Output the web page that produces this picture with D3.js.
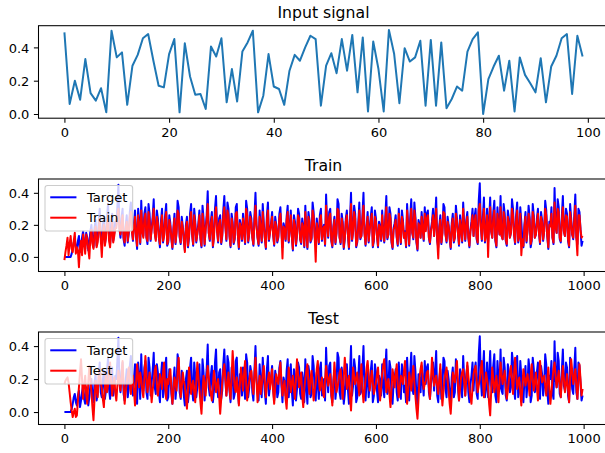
<!DOCTYPE html>
<html>
<head>
<meta charset="utf-8">
<script src="https://cdn.jsdelivr.net/npm/d3@7"></script>
<style>
  body { margin: 0; background: #fff; }
  svg { display: block; font-family: "DejaVu Sans", sans-serif; }
</style>
</head>
<body>
<div id="chart"></div>
<script>
// Values

// input signal, first 100 samples
const inputSignal = [
  0.49, 0.06, 0.20, 0.085, 0.33, 0.125, 0.08, 0.155, 0.01, 0.50,
  0.34, 0.37, 0.055, 0.29, 0.355, 0.455, 0.48, 0.32, 0.17, 0.16,
  0.36, 0.45, 0.01, 0.425, 0.225, 0.115, 0.12, 0.03, 0.405, 0.345,
  0.455, 0.07, 0.27, 0.075, 0.375, 0.43, 0.50, 0.01, 0.11, 0.36,
  0.165, 0.15, 0.055, 0.26, 0.355, 0.32, 0.40, 0.47, 0.45, 0.05,
  0.29, 0.365, 0.245, 0.45, 0.26, 0.475, 0.13, 0.46, 0.015, 0.435,
  0.27, 0.015, 0.505, 0.36, 0.065, 0.395, 0.315, 0.34, 0.44, 0.05,
  0.445, 0.05, 0.43, 0.035, 0.09, 0.165, 0.14, 0.375, 0.45, 0.49,
  0.0, 0.21, 0.285, 0.35, 0.14, 0.32, 0.015, 0.34, 0.235, 0.185,
  0.13, 0.335, 0.07, 0.285, 0.35, 0.455, 0.48, 0.12, 0.47, 0.345
];

// target / train / test, read every 2nd step (x = 0, 2, 4 ... 998), one row per 100 steps
const sampleStep = 2;

const target = [
  0,0, 0,0, 0,0, 0,0.02, 0.05,0.09, 0.11,0.06, 0.04,0.1, 0.13,0.03, 0.07,0.12, 0.16,0.08, 0.05,0.15, 0.12,0.04, 0.09,0.16, 0.2,0.1, 0.06,0.18, 0.23,0.07, 0.11,0.21, 0.3,0.12, 0.09,0.19, 0.25,0.08, 0.13,0.24, 0.33,0.14, 0.08,0.2, 0.27,0.1, 0.15,0.22,
  0.2,0.31, 0.45,0.18, 0.12,0.24, 0.3,0.11, 0.07,0.19, 0.26,0.09, 0.15,0.28, 0.34,0.17, 0.1,0.21, 0.29,0.13, 0.05,0.3, 0.22,0.08, 0.35,0.16, 0.13,0.27, 0.31,0.12, 0.08,0.33, 0.27,0.1, 0.18,0.25, 0.36,0.15, 0.11,0.29, 0.24,0.12, 0.06,0.22, 0.3,0.09, 0.14,0.26, 0.33,0.07,
  0.09,0.26, 0.21,0.11, 0.05,0.18, 0.27,0.08, 0.16,0.35, 0.31,0.12, 0.08,0.25, 0.19,0.1, 0.04,0.2, 0.25,0.06, 0.12,0.27, 0.33,0.14, 0.07,0.3, 0.22,0.09, 0.15,0.21, 0.29,0.11, 0.06,0.32, 0.24,0.07, 0.18,0.26, 0.41,0.15, 0.1,0.22, 0.28,0.06, 0.13,0.3, 0.38,0.17, 0.09,0.24,
  0.26,0.08, 0.13,0.29, 0.38,0.2, 0.1,0.34, 0.3,0.13, 0.06,0.27, 0.22,0.08, 0.11,0.31, 0.33,0.14, 0.05,0.23, 0.19,0.1, 0.27,0.16, 0.08,0.35, 0.3,0.09, 0.15,0.28, 0.24,0.12, 0.07,0.25, 0.4,0.2, 0.12,0.07, 0.29,0.18, 0.09,0.33, 0.21,0.12, 0.05,0.26, 0.34,0.1, 0.16,0.21,
  0.28,0.14, 0.07,0.25, 0.2,0.09, 0.12,0.27, 0.31,0.16, 0.06,0.21, 0.18,0.1, 0.25,0.32, 0.09,0.19, 0.29,0.13, 0.04,0.26, 0.22,0.07, 0.14,0.3, 0.27,0.11, 0.08,0.24, 0.19,0.06, 0.32,0.15, 0.05,0.28, 0.23,0.09, 0.11,0.34, 0.28,0.13, 0.07,0.24, 0.17,0.08, 0.26,0.3, 0.1,0.18,
  0.2,0.07, 0.39,0.21, 0.12,0.28, 0.3,0.1, 0.06,0.19, 0.25,0.08, 0.15,0.36, 0.33,0.12, 0.08,0.27, 0.22,0.05, 0.11,0.24, 0.29,0.14, 0.05,0.23, 0.4,0.1, 0.16,0.32, 0.27,0.06, 0.09,0.21, 0.34,0.11, 0.13,0.26, 0.4,0.15, 0.07,0.19, 0.28,0.09, 0.18,0.25, 0.31,0.06, 0.1,0.29,
  0.24,0.13, 0.06,0.22, 0.19,0.1, 0.29,0.16, 0.09,0.25, 0.38,0.11, 0.14,0.31, 0.27,0.09, 0.05,0.18, 0.21,0.26, 0.12,0.07, 0.3,0.17, 0.08,0.29, 0.23,0.12, 0.16,0.06, 0.33,0.2, 0.07,0.24, 0.36,0.15, 0.11,0.34, 0.25,0.09, 0.04,0.23, 0.2,0.12, 0.28,0.18, 0.1,0.31, 0.17,0.27,
  0.29,0.12, 0.08,0.17, 0.22,0.3, 0.13,0.24, 0.37,0.1, 0.06,0.19, 0.26,0.08, 0.15,0.33, 0.31,0.14, 0.09,0.25, 0.2,0.11, 0.05,0.21, 0.27,0.09, 0.12,0.32, 0.24,0.15, 0.07,0.26, 0.18,0.09, 0.34,0.2, 0.1,0.23, 0.28,0.12, 0.06,0.17, 0.22,0.3, 0.13,0.25, 0.3,0.11, 0.08,0.35,
  0.46,0.2, 0.1,0.25, 0.37,0.09, 0.14,0.3, 0.09,0.22, 0.37,0.16, 0.12,0.28, 0.35,0.1, 0.06,0.31, 0.21,0.14, 0.38,0.13, 0.11,0.33, 0.27,0.1, 0.07,0.29, 0.24,0.12, 0.15,0.36, 0.3,0.14, 0.08,0.26, 0.34,0.09, 0.13,0.31, 0.22,0.11, 0.06,0.2, 0.28,0.09, 0.17,0.32, 0.25,0.06,
  0.1,0.33, 0.26,0.12, 0.14,0.24, 0.3,0.15, 0.08,0.28, 0.23,0.1, 0.16,0.35, 0.29,0.13, 0.05,0.22, 0.2,0.31, 0.12,0.08, 0.43,0.2, 0.15,0.36, 0.31,0.11, 0.09,0.25, 0.38,0.16, 0.13,0.3, 0.27,0.1, 0.06,0.33, 0.24,0.14, 0.11,0.26, 0.39,0.12, 0.08,0.3, 0.28,0.17, 0.07,0.1
];

const trainOut = [
  -0.02,0.03, 0.07,0.12, 0.01,0.08, 0.13,0.05, 0.03,0.1, 0.15,0.02, 0.06,0.04, -0.065,0.06, 0.1,0.01, 0.14,0.09, 0.02,0.14, 0.11,0.05, -0.01,0.12, 0.17,0.08, 0.05,0.15, 0.19,0.06, 0.09,0.17, 0.24,0.11, 0.0,0.14, 0.2,0.07, 0.12,0.2, 0.26,0.1, 0.06,0.16, 0.22,0.09, 0.13,0.18,
  0.18,0.26, 0.3,0.17, 0.14,0.21, 0.26,0.12, 0.09,0.18, 0.22,0.1, 0.16,0.25, 0.28,0.16, 0.11,0.19, 0.25,0.13, 0.07,0.26, 0.2,0.09, 0.29,0.16, 0.12,0.24, 0.27,0.12, 0.1,0.28, 0.23,0.11, 0.17,0.22, 0.3,0.15, 0.1,0.25, 0.21,0.12, 0.08,0.2, 0.26,0.1, 0.13,0.23, 0.28,0.08,
  0.1,0.23, 0.19,0.12, 0.06,0.17, 0.24,0.09, 0.15,0.29, 0.27,0.13, 0.09,0.22, 0.18,0.11, 0.03,0.18, 0.22,0.07, 0.13,0.24, 0.28,0.14, 0.08,0.26, 0.2,0.1, 0.14,0.19, 0.26,0.12, 0.07,0.27, 0.21,0.08, 0.17,0.23, 0.33,0.15, 0.11,0.2, 0.25,0.07, 0.12,0.26, 0.31,0.16, 0.1,0.21,
  0.23,0.09, 0.14,0.25, 0.31,0.19, 0.11,0.29, 0.26,0.13, 0.07,0.24, 0.2,0.09, 0.12,0.27, 0.28,0.14, 0.06,0.21, 0.18,0.11, 0.24,0.16, 0.09,0.3, 0.26,0.1, 0.15,0.25, 0.21,0.12, 0.08,0.22, 0.32,0.19, 0.12,0.08, 0.25,0.17, 0.1,0.28, 0.19,0.12, 0.06,0.23, 0.29,0.11, 0.15,0.2,
  0.25,0.14, 0.08,0.22, 0.19,0.1, 0.13,0.24, 0.27,0.16, -0.01,0.19, 0.17,0.11, 0.23,0.28, 0.1,0.18, 0.26,0.13, 0.05,0.23, 0.2,0.08, 0.14,0.26, 0.24,0.11, 0.09,0.21, 0.18,0.07, 0.28,0.15, 0.06,0.25, 0.21,0.1, 0.12,0.29, 0.25,0.13, -0.03,0.21, 0.16,0.09, 0.23,0.26, 0.11,0.17,
  0.19,0.08, 0.32,0.2, 0.13,0.25, 0.27,0.11, 0.07,0.18, 0.23,0.09, 0.15,0.3, 0.29,0.12, 0.09,0.24, 0.2,0.06, 0.12,0.22, 0.26,0.14, 0.06,0.21, 0.33,0.11, 0.16,0.28, 0.24,0.07, 0.1,0.19, 0.29,0.12, 0.13,0.23, 0.32,0.15, 0.08,0.18, 0.25,0.1, 0.17,0.22, 0.27,0.07, 0.11,0.25,
  0.22,0.13, 0.07,0.2, 0.18,0.11, 0.26,0.16, 0.1,0.22, 0.31,0.12, 0.14,0.27, 0.24,0.1, 0.06,0.17, 0.19,0.23, 0.13,0.08, 0.27,0.17, 0.09,0.25, 0.21,0.12, 0.15,0.07, 0.29,0.19, 0.08,0.21, 0.3,0.15, 0.12,0.29, 0.23,0.1, 0.05,0.21, 0.19,0.12, 0.25,0.17, 0.11,0.27, 0.16,0.24,
  0.26,0.12, 0.09,0.16, 0.2,0.26, 0.13,0.21, 0.3,0.11, -0.01,0.18, 0.23,0.09, 0.15,0.28, 0.27,0.14, 0.1,0.22, 0.19,0.12, 0.06,0.19, 0.24,0.1, 0.12,0.27, 0.22,0.15, 0.08,0.23, 0.17,0.1, 0.3,0.19, 0.11,0.21, 0.25,0.12, 0.07,0.16, 0.2,0.26, 0.13,0.22, 0.26,0.12, 0.09,0.29,
  0.33,0.19, 0.11,0.22, 0.3,0.1, 0.14,0.26, 0.0,0.2, 0.31,0.16, 0.12,0.24, 0.29,0.11, 0.07,0.27, 0.2,0.14, 0.31,0.13, 0.11,0.28, 0.24,0.11, 0.08,0.25, 0.22,0.12, 0.15,0.3, 0.26,0.14, 0.09,0.23, 0.29,0.1, 0.13,0.27, 0.01,0.11, 0.07,0.19, 0.25,0.1, 0.16,0.27, 0.23,0.08,
  0.11,0.28, 0.24,0.12, 0.14,0.21, 0.27,0.15, 0.09,0.25, 0.21,0.11, 0.16,0.3, 0.26,0.13, 0.06,0.2, 0.19,0.27, 0.12,0.09, 0.34,0.19, 0.15,0.3, 0.28,0.12, 0.1,0.22, 0.31,0.16, 0.13,0.26, 0.25,0.11, 0.07,0.28, 0.22,0.14, 0.12,0.23, 0.32,0.12, 0.01,0.26, 0.26,0.17, 0.12,0.13
];

const testOut = [
  0.17,0.19, 0.2,0.21, 0.18,0.12, 0.06,0.01, -0.03,0.0, 0.02,-0.03, -0.02,0.07, 0.15,0.24, 0.32,0.2, 0.08,0.16, 0.22,0.11, 0.05,0.18, 0.28,0.2, 0.12,0.03, -0.05,0.08, 0.19,0.13, 0.09,0.22, 0.26,0.18, 0.14,0.08, 0.03,0.15, 0.23,0.12, 0.16,0.25, 0.3,0.19, 0.1,0.17, 0.21,0.12,
  0.07,0.16, 0.25,0.19, 0.13,0.22, 0.31,0.17, 0.05,0.12, 0.18,0.23, 0.27,0.16, 0.11,0.2, 0.22,0.13, 0.04,0.17, 0.29,0.21, 0.15,0.24, 0.2,0.13, 0.09,0.2, 0.34,0.22, 0.12,0.18, 0.24,0.15, 0.06,0.13, 0.19,0.25, 0.28,0.17, 0.1,0.16, 0.23,0.19, 0.14,0.24, 0.3,0.15, 0.08,0.2,
  0.17,0.22, 0.26,0.15, 0.05,0.12, 0.21,0.18, 0.13,0.24, 0.33,0.2, 0.09,0.15, 0.24,0.19, 0.16,0.09, 0.02,0.14, 0.27,0.2, 0.11,0.16, 0.19,0.12, 0.06,0.18, 0.3,0.22, 0.14,0.06, -0.01,0.12, 0.22,0.17, 0.1,0.2, 0.28,0.21, 0.15,0.11, 0.07,0.16, 0.25,0.19, 0.12,0.17, 0.2,0.1,
  -0.01,0.08, 0.18,0.25, 0.29,0.2, 0.1,0.17, 0.24,0.14, 0.08,0.21, 0.37,0.26, 0.15,0.12, 0.21,0.13, 0.04,0.17, 0.27,0.21, 0.13,0.23, 0.31,0.18, 0.07,0.14, 0.19,0.24, 0.25,0.16, 0.11,0.22, 0.33,0.19, 0.06,0.15, 0.22,0.11, 0.16,0.23, 0.28,0.18, 0.09,0.16, 0.2,0.24, 0.14,0.2,
  0.26,0.13, 0.05,0.15, 0.23,0.2, 0.17,0.24, 0.3,0.19, 0.1,0.15, 0.19,0.08, 0.02,0.16, 0.27,0.2, 0.12,0.18, 0.22,0.14, 0.08,0.21, 0.32,0.23, 0.15,0.19, 0.24,0.1, 0.03,0.14, 0.2,0.25, 0.29,0.17, 0.11,0.2, 0.25,0.16, 0.07,0.13, 0.18,0.26, 0.31,0.2, 0.13,0.17, 0.21,0.12,
  0.09,0.19, 0.28,0.22, 0.16,0.2, 0.23,0.12, 0.04,0.17, 0.3,0.21, 0.12,0.15, 0.19,0.24, 0.26,0.17, 0.08,0.21, 0.33,0.24, 0.14,0.18, 0.22,0.09, 0.01,0.15, 0.27,0.22, 0.17,0.2, 0.24,0.16, 0.1,0.21, 0.29,0.14, 0.06,0.13, 0.2,0.27, 0.31,0.22, 0.13,0.19, 0.25,0.18, 0.11,0.14,
  0.18,0.23, 0.27,0.15, 0.07,0.14, 0.23,0.28, 0.32,0.22, 0.12,0.17, 0.2,0.11, 0.03,0.14, 0.26,0.21, 0.15,0.23, 0.29,0.17, 0.09,0.15, 0.22,0.2, 0.17,0.25, 0.31,0.16, 0.05,0.13, 0.24,0.19, 0.13,0.21, 0.28,0.18, 0.1,0.02, -0.04,0.08, 0.21,0.26, 0.3,0.21, 0.14,0.17, 0.19,0.24,
  0.25,0.15, 0.08,0.2, 0.33,0.24, 0.16,0.19, 0.22,0.16, 0.11,0.2, 0.29,0.14, 0.04,0.12, 0.2,0.24, 0.27,0.19, 0.13,0.05, -0.01,0.1, 0.24,0.21, 0.18,0.25, 0.31,0.17, 0.07,0.14, 0.21,0.24, 0.26,0.18, 0.1,0.2, 0.3,0.22, 0.15,0.09, 0.05,0.15, 0.23,0.26, 0.28,0.19, 0.12,0.16,
  0.2,0.26, 0.31,0.19, 0.09,0.17, 0.24,0.2, 0.15,0.05, -0.02,0.13, 0.27,0.2, 0.12,0.17, 0.22,0.14, 0.06,0.19, 0.3,0.23, 0.17,0.21, 0.25,0.15, 0.08,0.13, 0.19,0.24, 0.28,0.2, 0.11,0.22, 0.33,0.24, 0.14,0.18, 0.21,0.12, 0.04,0.15, 0.26,0.21, 0.16,0.2, 0.23,0.17, 0.1,0.22,
  0.29,0.2, 0.13,0.18, 0.24,0.15, 0.07,0.19, 0.31,0.24, 0.18,0.2, 0.22,0.16, 0.1,0.19, 0.27,0.14, 0.05,0.12, 0.2,0.26, 0.3,0.22, 0.15,0.2, 0.25,0.16, 0.09,0.19, 0.28,0.2, 0.12,0.17, 0.23,0.14, 0.06,0.2, 0.32,0.25, 0.17,0.21, 0.26,0.16, 0.08,0.19, 0.29,0.2, 0.1,0.14
];

const inputTicks = [0, 20, 40, 60, 80, 100];
const seriesTicks = [0, 200, 400, 600, 800, 1000];
const yTicks = [0.0, 0.2, 0.4];

// Layout (pixels), matched to the reference figure

const width = 605;
const height = 453;
const axLeft = 38.5;
const axRight = 608.5;   // right edge is cut off in the reference
const axHeight = 92.5;
const tickLen = 4.6;
const tickPad = 4.6;
const tickFont = 13;
const titleFont = 15.7;

const svg = d3.select('#chart')
  .append('svg')
  .attr('width', width)
  .attr('height', height)

// matplotlib style: 5% margin each side of the data range
function padded(lo, hi) {
  let m = (hi - lo) * 0.05;
  return [lo - m, hi + m];
}

function drawPanel(opts) {
  let top = opts.top;
  let bottom = top + axHeight;

  let allX = opts.series.flatMap(s => s.data.map((d, i) => i * s.step));
  let allY = opts.series.flatMap(s => s.data);

  const x = d3.scaleLinear()
    .domain(padded(d3.min(allX), d3.max(allX)))
    .range([axLeft, axRight])

  const y = d3.scaleLinear()
    .domain(padded(d3.min(allY), d3.max(allY)))
    .range([bottom, top])

  const g = svg.append('g')

  // clip lines to the axes box
  let clipId = 'clip-' + opts.name;
  g.append('clipPath').attr('id', clipId)
    .append('rect')
    .attr('x', axLeft).attr('y', top)
    .attr('width', axRight - axLeft).attr('height', axHeight)

  const line = (step) => d3.line()
    .x((d, i) => x(i * step))
    .y(d => y(d))

  opts.series.forEach(s => {
    g.append('path')
      .datum(s.data)
      .attr('clip-path', 'url(#' + clipId + ')')
      .attr('fill', 'none')
      .attr('stroke', s.color)
      .attr('stroke-width', 2)
      .attr('stroke-linejoin', 'round')
      .attr('d', line(s.step))
  })

  // axes
  const xAxis = d3.axisBottom(x)
    .tickValues(opts.xTicks)
    .tickFormat(d3.format('d'))
    .tickSizeInner(tickLen)
    .tickSizeOuter(0)
    .tickPadding(tickPad)

  const yAxis = d3.axisLeft(y)
    .tickValues(yTicks)
    .tickFormat(d3.format('.1f'))
    .tickSizeInner(tickLen)
    .tickSizeOuter(0)
    .tickPadding(tickPad)

  let gx = g.append('g')
    .attr('transform', 'translate(0,' + bottom + ')')
    .call(xAxis)

  let gy = g.append('g')
    .attr('transform', 'translate(' + axLeft + ',0)')
    .call(yAxis)

  ;[gx, gy].forEach(a => {
    a.select('.domain').remove()
    a.selectAll('.tick line').attr('stroke', '#000').attr('stroke-width', 1.05)
    a.selectAll('.tick text')
      .attr('fill', '#000')
      .style('font-size', tickFont + 'px')
      .style('font-family', '"DejaVu Sans", sans-serif')
  })
  gy.selectAll('.tick text').attr('dy', '0.36em')

  // frame
  g.append('rect')
    .attr('x', axLeft).attr('y', top)
    .attr('width', axRight - axLeft).attr('height', axHeight)
    .attr('fill', 'none')
    .attr('stroke', '#000')
    .attr('stroke-width', 1.05)

  // title, centred on the axes box
  g.append('text')
    .attr('x', (axLeft + axRight) / 2)
    .attr('y', top - 7.6)
    .attr('text-anchor', 'middle')
    .style('font-size', titleFont + 'px')
    .text(opts.title)

  if (opts.legend) drawLegend(g, top, opts.series);
}

function drawLegend(g, top, series) {
  let fs = 13.1;
  let lx = axLeft + 6.5;
  let ly = top + 6.5;
  let pad = 0.4 * fs;
  let handle = 2 * fs;
  let textGap = 0.8 * fs;

  const box = g.append('rect')
    .attr('x', lx).attr('y', ly)
    .attr('rx', 0.2 * fs)
    .attr('fill', '#fff')
    .attr('fill-opacity', 0.8)
    .attr('stroke', '#cccccc')
    .attr('stroke-width', 1.05)

  let maxW = 0;
  series.forEach((s, i) => {
    let cy = ly + 11.8 + i * 20.4;
    g.append('line')
      .attr('x1', lx + pad).attr('x2', lx + pad + handle)
      .attr('y1', cy).attr('y2', cy)
      .attr('stroke', s.color)
      .attr('stroke-width', 2)
    let t = g.append('text')
      .attr('x', lx + pad + handle + textGap)
      .attr('y', cy)
      .attr('dy', '0.36em')
      .style('font-size', fs + 'px')
      .text(s.label)
    maxW = Math.max(maxW, t.node().getComputedTextLength());
  })

  box.attr('width', pad + handle + textGap + maxW + pad)
    .attr('height', 45.5)
}

drawPanel({
  name: 'input', title: 'Input signal', top: 25.7, xTicks: inputTicks, legend: false,
  series: [{ data: inputSignal, step: 1, color: '#1f77b4' }]
})

drawPanel({
  name: 'train', title: 'Train', top: 179, xTicks: seriesTicks, legend: true,
  series: [
    { data: target, step: sampleStep, color: 'blue', label: 'Target' },
    { data: trainOut, step: sampleStep, color: 'red', label: 'Train' }
  ]
})

drawPanel({
  name: 'test', title: 'Test', top: 332, xTicks: seriesTicks, legend: true,
  series: [
    { data: target, step: sampleStep, color: 'blue', label: 'Target' },
    { data: testOut, step: sampleStep, color: 'red', label: 'Test' }
  ]
})
</script>
</body>
</html>
